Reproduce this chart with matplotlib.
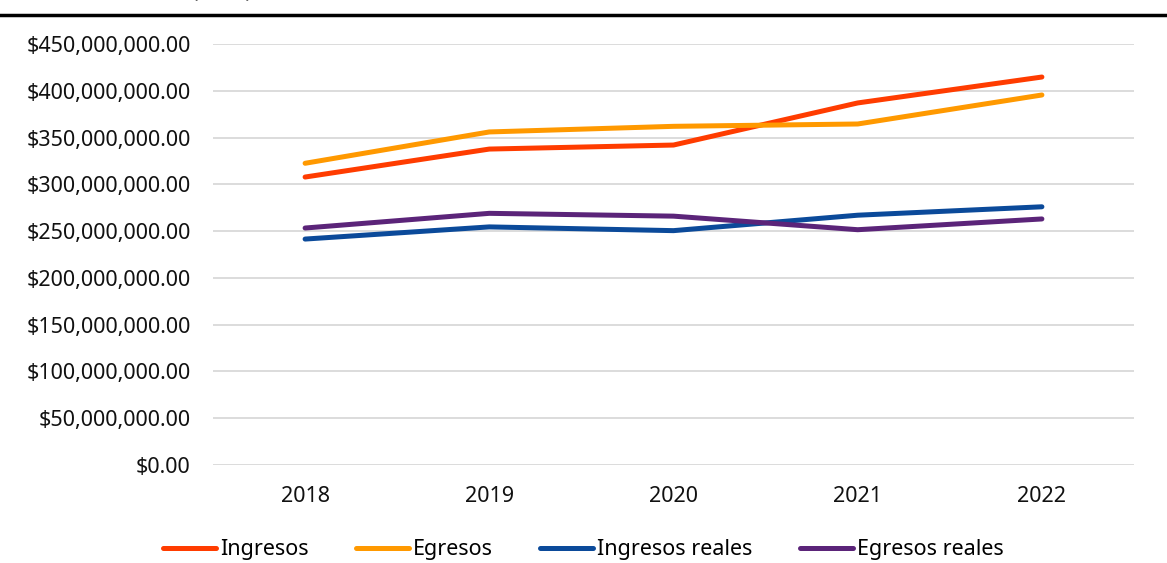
import matplotlib
matplotlib.use("Agg")
import matplotlib.pyplot as plt
from matplotlib.ticker import FuncFormatter

years = ["2018", "2019", "2020", "2021", "2022"]
ingresos = [307.8e6, 337.7e6, 342.0e6, 387.0e6, 414.7e6]
egresos = [322.5e6, 356.0e6, 362.0e6, 364.5e6, 395.5e6]
ingresos_reales = [241.5e6, 254.5e6, 250.5e6, 267.0e6, 276.0e6]
egresos_reales = [253.3e6, 269.0e6, 266.0e6, 251.5e6, 263.0e6]

series = [
    ("Ingresos", ingresos, "#FF3C00"),
    ("Egresos", egresos, "#FF9900"),
    ("Ingresos reales", ingresos_reales, "#0B4A9A"),
    ("Egresos reales", egresos_reales, "#5B2479"),
]

plt.rcParams["font.family"] = ["Noto Sans", "DejaVu Sans"]

fig = plt.figure(figsize=(11.67, 5.63), dpi=100)
ax = fig.add_axes([213 / 1167, 1 - 465 / 563, (1134 - 213) / 1167, (465 - 44) / 563])

x = list(range(len(years)))
for name, vals, color in series:
    ax.plot(x, vals, color=color, linewidth=3.6, label=name, solid_capstyle="round")

ax.set_xlim(-0.5, len(years) - 0.5)
ax.set_ylim(0, 450e6)
ax.set_yticks([i * 50e6 for i in range(10)])
ax.yaxis.set_major_formatter(FuncFormatter(lambda v, p: f"${v:,.2f}"))
ax.set_xticks(x)
ax.set_xticklabels(years)
ax.tick_params(axis="both", length=0, labelsize=15.5, colors="#111111")
ax.tick_params(axis="y", pad=16)
ax.tick_params(axis="x", pad=15)
ax.grid(axis="y", color="#D9D9D9", linewidth=1.3)
ax.set_axisbelow(True)
for s in ax.spines.values():
    s.set_visible(False)

# header line and clipped title from the source page
fig.add_artist(plt.Line2D([0, 1], [1 - 15 / 563, 1 - 15 / 563], color="black", linewidth=2.5))
fig.text(25 / 1167, 1 - 3 / 563, "Pesos corrientes (MXN)", fontsize=15, color="#666666",
         va="bottom", ha="left")

fig.legend(loc="center", bbox_to_anchor=(0.5, 1 - 550 / 563), ncol=4, frameon=False,
           fontsize=15.5, handlelength=2.45, handletextpad=0.2, columnspacing=2.2)

fig.savefig("out.png", dpi=100)
